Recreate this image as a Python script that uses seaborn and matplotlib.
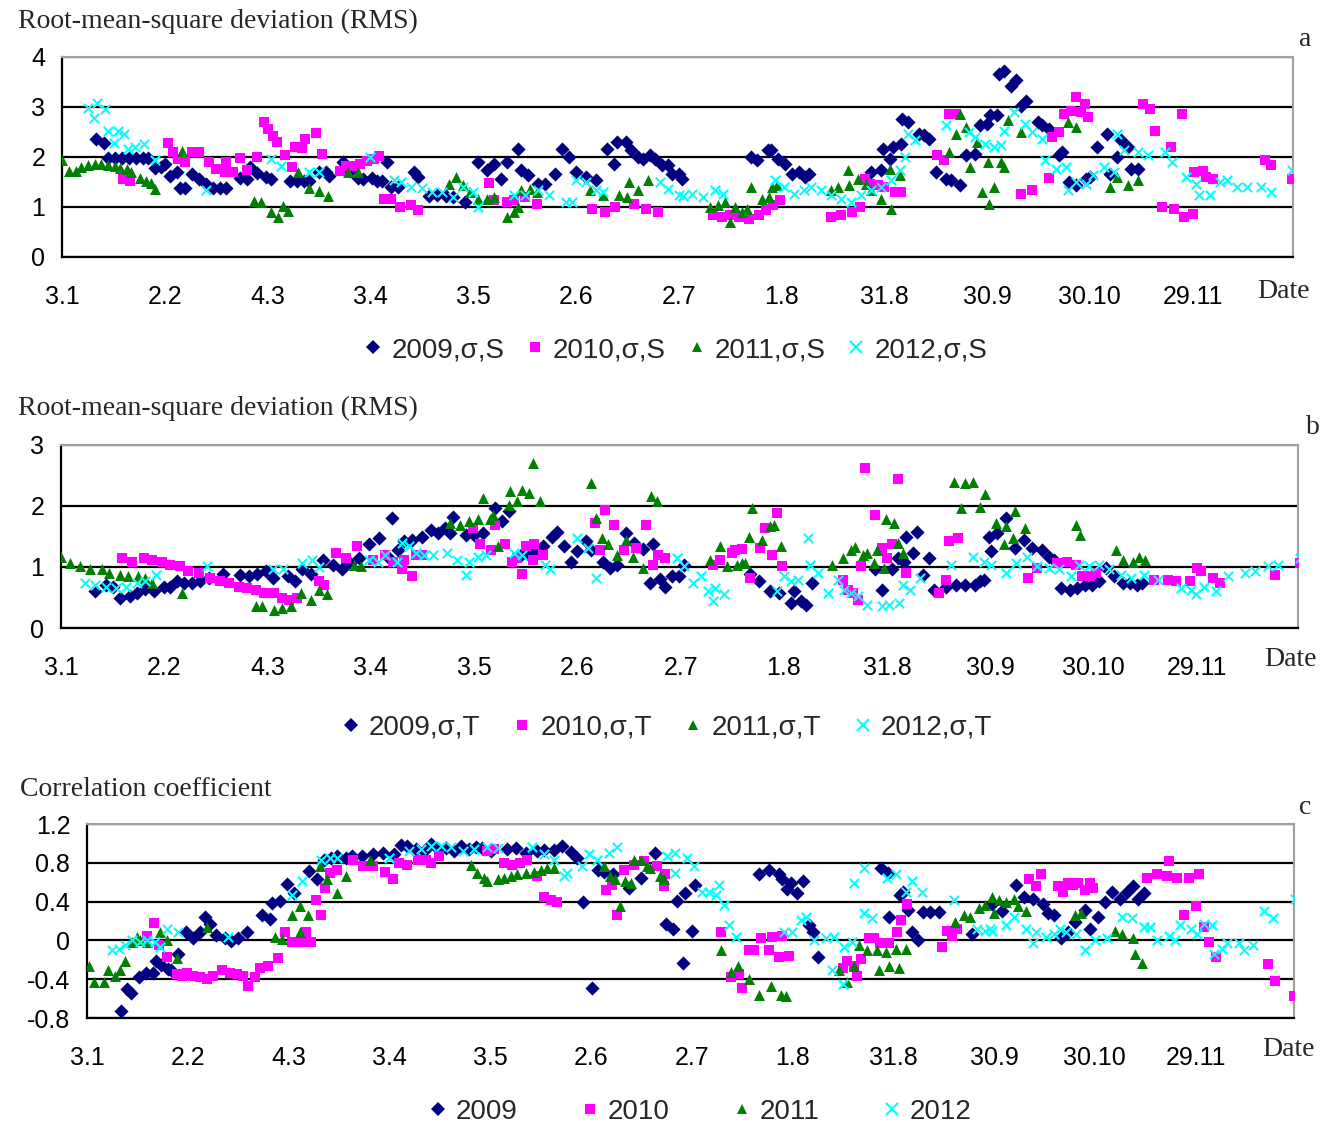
import matplotlib
matplotlib.use("Agg")
import matplotlib.pyplot as plt
import seaborn as sns
import pandas as pd

sns.set_style("white")
plt.rcParams["font.family"] = ["Liberation Sans", "DejaVu Sans"]

TICK_DAYS = [3, 33, 63, 93, 123, 153, 183, 213, 243, 273, 303, 333]
TICK_LABELS = ["3.1", "2.2", "4.3", "3.4", "3.5", "2.6", "2.7", "1.8", "31.8", "30.9", "30.10", "29.11"]
YEARS = ["2009", "2010", "2011", "2012"]
COLORS = {"2009": "#000080", "2010": "#FF00FF", "2011": "#008000", "2012": "#00FFFF"}
MARKERS = {"2009": "D", "2010": "s", "2011": "^", "2012": "x"}
SIZES = {"2009": 52, "2010": 52, "2011": 62, "2012": 45}

# ---------------- Panel a: RMS deviation, salinity (S) ----------------
a09 = [(13,2.35),(15.3,2.27),(16.5,1.97),(18.5,1.97),(20.5,1.97),(22.5,1.97),(24.5,1.97),(26.5,1.97),(28,1.97),(30,1.77),(32,1.8),(33,1.85),(34.5,1.62),(36.5,1.7),(37.5,1.38),(39,1.38),(41,1.65),(43,1.55),(45,1.45),(47,1.38),(49,1.38),(51,1.38),(55,1.57),(57,1.55),(58,1.8),(60,1.68),(62.5,1.6),(64,1.55),(69.5,1.52),(71.5,1.52),(73.5,1.52),(75,1.52),(78,1.69),(80,1.69),(81,1.62),(85,1.9),(87,1.72),(89.5,1.58),(91,1.55),(93.5,1.58),(95,1.52),(96.5,1.52),
       (98,1.9),(99,1.4),(101,1.4),(105.6,1.7),(107,1.6),(110,1.22),(112.5,1.23),(115,1.22),(117,1.2),(120.7,1.1),(124.5,1.9),(127,1.73),(129,1.86),(131,1.56),(133,1.9),(136,2.16),(137,1.73),(139,1.63),(142,1.46),(144,1.46),(147,1.66),(149,2.16),(151,1.99),(153,1.7),(156,1.6),(159,1.53),(162,2.16),(164,1.86),(165,2.29),(167.5,2.29),(169,2.13),(171,2.0),(172.5,1.96),(174.5,2.03),(176,1.96),(178,1.83),(180,1.83),(181,1.66),(183,1.66),(184,1.56),
       (204,1.99),(206,1.93),(209,2.13),(210,2.13),(212,1.96),(214,1.86),(216,1.66),(218,1.69),(220,1.59),(221,1.66),(239,1.69),(242,1.73),(242.5,2.16),(244.6,1.96),(245.5,2.19),(248,2.26),(248.3,2.76),(250,2.69),(253,2.46),(254.5,2.43),(256,2.36),(258,1.69),(261,1.56),(262.5,1.53),(265,1.43),(267,2.03),(269.5,2.06),(271,2.63),(273,2.66),
       (274,2.83),(276,2.83),(276.5,3.66),(278,3.72),(280,3.42),(281.5,3.53),(283,3.02),(284.5,3.12),(288,2.69),(289,2.63),(291,2.56),(294,2.03),(295,2.1),(297,1.5),(299,1.43),(302,1.56),(303,1.59),(305,2.19),(308,2.46),(309,1.66),(311,1.99),(312,2.33),(314,2.19),(315,1.76),(317,1.76)]
a10 = [(20.8,1.56),(22.8,1.52),(34,2.28),(35.5,2.1),(37,1.96),(38.8,1.9),(40.8,2.1),(43,2.1),(45.8,1.9),(48,1.75),(50.5,1.7),(50.8,1.9),(53,1.7),(55,1.98),(57,1.74),(60,1.99),(62,2.7),(63,2.55),(64.5,2.42),(65.8,2.29),(68,2.03),(70,1.8),(71,2.2),(73,2.17),(74,2.35),(77,2.48),(79,2.06),(84,1.72),(86,1.82),(88,1.82),(90,1.85),(92,1.92),(94,1.96),(95.5,2.02),
       (97,1.16),(99,1.16),(101.7,1.0),(105,1.03),(107,0.93),(127.5,1.47),(129,1.13),(133,1.09),(135,1.13),(138,1.19),(141.5,1.06),(157.6,0.96),(161.5,0.89),(164.3,0.99),(170,1.06),(173.5,0.96),(177,0.89),
       (193,0.83),(195.5,0.79),(198,0.83),(200.5,0.79),(203.5,0.76),(206.5,0.83),(208.5,0.93),(210.5,1.03),(212.5,1.13),(227.4,0.79),(230.5,0.83),(233.5,0.89),(236,0.99),(237.5,1.56),(238.7,1.46),(241.2,1.43),(243,1.39),(246,1.29),(248,1.29),(258.3,2.03),(260.3,1.93),(261.8,2.86),(263.8,2.86),
       (283,1.26),(286,1.33),(291,1.58),(292,2.39),(294,2.5),(295.5,2.86),(297.5,2.92),(299,3.2),(300.5,2.89),(301.5,3.05),(302.5,2.79),(318.6,3.05),(320.5,2.95),(322,2.52),(324,0.99),(326.7,2.19),(327.5,0.96),(330,2.85),(330.5,0.79),(333,0.86),(333.5,1.69),(336,1.72),(337,1.59),(339,1.56),(354,1.93),(356,1.83),(362,1.56)]
a11 = [(3,1.93),(5,1.72),(7,1.72),(8.6,1.8),(10.5,1.83),(12.5,1.85),(14.5,1.85),(16.5,1.83),(18.4,1.82),(20,1.78),(22,1.75),(23,1.7),(25.7,1.58),(27.5,1.52),(29,1.48),(30,1.35),(38,2.12),(59,1.12),(61,1.09),(64,0.89),(66,0.79),(67.5,1.02),(69,0.92),(72,1.69),(75,1.38),(78,1.32),(80.7,1.22),(86.5,1.69),(89.5,1.69),
       (116,1.46),(118,1.6),(120,1.43),(122,1.3),(124.5,1.16),(127,1.16),(129,1.19),(133,0.8),(135,0.9),(136,0.99),(137,1.33),(139.6,1.36),(141.5,1.29),(157,1.33),(161,1.23),(165.5,1.23),(168,1.19),(168.5,1.49),(171,1.33),(174,1.53),
       (192,0.99),(194.5,1.03),(196.5,1.09),(198,0.7),(199.5,0.99),(201.5,0.89),(203,0.96),(204,1.4),(207.3,1.16),(209.3,1.19),(210.3,1.4),(211.8,1.43),(227.4,1.33),(229.4,1.4),(232.3,1.73),(232.8,1.43),(235.3,1.56),(237.7,1.46),(239.2,1.33),(242,1.16),(244.6,1.76),(245,0.96),(247.5,1.63),(262,2.09),(264,2.46),(265,2.86),(267,2.59),(268,1.79),(270,2.29),(271.5,1.29),(273.2,1.89),
       (273.5,1.06),(275,1.4),(277,1.89),(278,1.79),(279,2.73),(283,2.49),(296.5,2.69),(299,2.59),(309,1.4),(311,1.59),(314,1.43),(317,1.53)]
a12 = [(10.6,2.98),(12.3,2.78),(13.3,3.08),(15.5,2.95),(16.4,2.51),(18.2,2.27),(19.4,2.51),(21.1,2.46),(22.3,2.16),(24.2,2.19),(27,2.26),(30,1.93),(45,1.33),(64,1.96),(67,1.82),(75,1.69),(78,1.69),(93,1.99),
       (100,1.53),(102,1.5),(105,1.4),(108,1.37),(111,1.3),(114,1.3),(117,1.2),(120,1.4),(123,1.3),(124.5,1.0),(135,1.23),(138,1.23),(142,1.33),(145,1.23),(150,1.09),(152,1.09),(153,1.53),(156,1.5),(159,1.33),(161,1.3),(177.5,1.5),(180,1.36),(183,1.23),
       (184.3,1.22),(186.8,1.26),(190,1.19),(193.6,1.33),(196,1.26),(211,1.53),(213.7,1.39),(216.6,1.26),(219.6,1.33),(221.5,1.39),(224.5,1.33),(227.4,1.23),(230.4,1.16),(233.3,1.09),(236.3,1.23),(239.2,1.33),(242,1.39),(245,1.53),(247.5,1.73),(249,1.99),(250,2.46),(252,2.33),(261,2.63),(267.6,2.49),(269.6,2.39),(272.5,2.26),
       (275,2.2),(277,2.23),(278,2.52),(281,2.89),(284,2.66),(286,2.49),(289,2.36),(290,1.93),(293,1.76),(296,1.79),(296.5,1.33),(299,1.5),(302,1.46),(304,1.63),(307,1.79),(310,1.69),(311,2.46),(313,2.13),(317,2.09),(320,2.03),(325,2.09),(327,1.89),(331,1.59),(334,1.46),(335,1.23),(338,1.23),(341,1.5),(343,1.53),(346,1.39),(349,1.39),(353,1.39),(356,1.29),(362,1.73)]

# ---------------- Panel b: RMS deviation, temperature (T) ----------------
b09 = [(13,0.6),(16,0.71),(18,0.68),(20,0.49),(23,0.52),(25,0.57),(27.5,0.64),(30,0.6),(33,0.67),(34.7,0.68),(36.7,0.77),(38.6,0.73),(41,0.73),(43.5,0.77),(46,0.82),(50,0.89),(55,0.87),(57.5,0.85),(60,0.89),(62.5,0.93),(64.5,0.82),(69,0.85),(71,0.77),(73,0.96),(75.5,0.89),(79,1.12),(82,1.04),(84.5,0.96),(87,1.07),(89.5,1.15),(92.5,1.37),
       (95.4,1.48),(98,1.17),(99,1.8),(101,1.28),(102.5,1.42),(105,1.45),(108,1.5),(110.5,1.61),(112.5,1.56),(114.5,1.64),(116,1.55),(117,1.82),(120.7,1.53),(123,1.53),(125.5,1.55),(129,1.97),(131,1.75),(133,1.91),(136.7,1.2),(138.7,1.22),(140.5,1.24),(143,1.35),(145.5,1.5),(147,1.58),(149,1.34),(151,1.09),(153,1.26),(155.6,1.42),(157,1.28),(160.5,1.09),(162.5,0.98),(164.5,1.04),(167,1.55),(169.5,1.4),(172,1.3),(174,0.74),(175,1.37),(177,0.8),(178.5,0.68),(180.5,0.85),(182.5,0.85),(184,1.04),
       (203,0.89),(205.6,0.77),(209,0.6),(211.5,0.57),(215,0.41),(216,0.6),(218,0.44),(219.5,0.37),(221,0.74),(239.5,0.96),(241.5,0.63),(244.5,0.96),(246,1.15),(248,1.09),(248.5,1.5),(250.5,1.23),(251.5,1.58),(253.5,0.87),(255,1.15),(256.5,0.63),(260,0.68),(263,0.71),(265.5,0.71),(268.5,0.71),(270,0.77),(271,0.79),(272.5,1.5),
       (273,1.26),(275,1.56),(277.5,1.8),(280,1.31),(282.7,1.45),(285,1.31),(288,1.28),(290,1.17),(291.4,1.12),(293.5,0.66),(296,0.63),(298,0.66),(300.5,0.71),(302.5,0.71),(304.5,0.77),(306.5,0.98),(309,0.85),(311.5,0.74),(313.5,0.73),(315.5,0.71),(317,0.73)]
b10 = [(20.7,1.15),(23.6,1.09),(27,1.15),(29.4,1.12),(32.3,1.09),(34.8,1.04),(37.7,1.01),(40,0.93),(43,0.9),(46.4,0.82),(49.3,0.77),(51.7,0.74),(54.7,0.68),(57,0.66),(59.5,0.63),(62,0.57),(64.8,0.57),(67.3,0.49),(69.2,0.46),(71.6,0.49),(78,0.77),(79.4,0.71),(82.8,1.23),(85.7,1.15),(89,1.34),(93.5,1.12),
       (97,1.2),(99.5,1.09),(102.5,1.12),(102,0.96),(105,0.85),(106,1.2),(108,1.2),(122.6,1.64),(124.6,1.37),(128,1.28),(129,1.69),(132,1.37),(134,1.09),(135.5,1.15),(137,0.89),(138,1.34),(140.5,1.37),(140,1.12),(143,1.2),(158,1.72),(161,1.94),(163.5,1.69),(159.5,1.28),(166.5,1.28),(170,1.31),(173,1.69),(175,1.04),(176.5,1.2),(178.5,1.15),
       (192.4,1.04),(194.4,1.12),(197.8,1.23),(198.8,1.28),(200.7,1.3),(203,0.82),(206,1.31),(207.5,1.64),(209.5,1.2),(211,1.89),(212.5,1.01),(230,0.79),(231.5,0.63),(233,0.57),(234.5,0.46),(235.5,1.01),(236.5,2.62),(239.5,1.86),(241.5,1.31),(243,1.15),(244.5,1.37),(246,2.44),(248.5,0.9),(258,0.57),(260,0.79),(261,1.42),(263.5,1.48),
       (284,0.82),(286.6,0.98),(292.4,1.07),(295.3,1.09),(297.8,1.04),(299.7,0.85),(302,0.85),(303.6,0.9),(320.6,0.79),(324.5,0.79),(327,0.77),(330.8,0.77),(333,0.98),(334,0.93),(337.5,0.82),(339.5,0.74),(355.5,0.87),(363,1.07)]
b11 = [(3,1.17),(5.6,1.07),(8.5,1.01),(11.4,0.97),(14.8,0.96),(16.8,0.9),(20.2,0.87),(22.6,0.85),(25.5,0.85),(27.5,0.82),(29.4,0.74),(38.2,0.58),(59.5,0.36),(61.5,0.36),(64.8,0.3),(67.3,0.33),(69.7,0.36),(72.6,0.57),(75.5,0.46),(78,0.63),(80.4,0.55),(88,1.04),(90,1.01),
       (116,1.72),(119,1.69),(121.5,1.75),(124,1.78),(125.5,2.13),(127.5,1.78),(128.5,1.86),(130,1.34),(133,2.02),(133.5,2.24),(135.5,2.08),(137,2.27),(139,2.21),(140,2.7),(142,2.08),(157,2.38),(158.5,1.8),(160,1.48),(162,1.37),(164.5,1.2),(167,1.45),(169,1.17),(172,0.98),(174.5,2.16),(176,2.08),
       (191.5,1.12),(194.4,1.34),(196.4,1.01),(199.3,1.04),(200.7,1.07),(201.7,1.07),(202.7,1.5),(203.7,1.97),(206.7,1.45),(209,1.67),(210,1.69),(212,1.34),(227,1.04),(230,1.15),(232.5,1.28),(233.5,1.33),(236,1.2),(237,1.23),(239,1.07),(240,1.28),(242,0.98),(242.5,1.78),(245,1.72),(246,1.39),(247.5,1.23),(262.5,2.4),(264.5,1.97),(265.5,2.38),(268,2.4),(270,1.99),(271.5,2.19),
       (274.5,1.72),(277.5,1.67),(280,1.91),(277,1.37),(279.5,1.48),(283,1.64),(297.8,1.69),(299,1.53),(309.5,1.28),(311.5,1.12),(314.5,1.09),(316,1.17),(318,1.12)]
b12 = [(10,0.74),(13,0.71),(16,0.68),(19,0.66),(22,0.68),(25,0.73),(27.5,0.77),(30.5,0.87),(45.5,1.01),(64.5,0.96),(67.5,0.96),(73,1.07),(76,1.12),(78,1.0),(92.5,1.12),
       (95,1.09),(97,1.2),(100.5,1.09),(102,1.39),(104,1.34),(106,1.23),(108.5,1.2),(111,1.2),(115,1.23),(118,1.12),(120.5,0.87),(121.5,1.09),(124,1.17),(126.5,1.2),(134.7,1.23),(137,1.2),(143.5,1.04),(145,0.96),(153,1.48),(156,1.31),(158.5,0.82),(182,1.15),(184,1.01),(186.5,0.74),
       (189,0.85),(191,0.6),(192.5,0.44),(193,0.66),(195.5,0.55),(211,0.6),(213,0.85),(215,0.77),(217,0.79),(220,1.48),(220.5,1.04),(223,0.9),(225.7,0.57),(228.7,0.79),(230.5,0.63),(232.5,0.57),(234.5,0.52),(237,0.38),(241.5,0.36),(243.5,0.38),(246.5,0.41),(247.5,0.71),(249.5,0.63),(252.5,0.82),(261.5,1.04),(268,1.17),(271,1.09),
       (273,1.04),(277.5,0.9),(280.5,1.07),(283.7,1.17),(286.6,1.01),(290,0.98),(293,0.96),(296.3,0.85),(298.7,1.04),(301.6,1.01),(304.5,1.04),(307.5,0.96),(311,0.87),(313.8,0.82),(317.7,0.87),(321.5,0.79),(328.3,0.66),(331.2,0.63),(332.7,0.55),(335,0.68),(338.5,0.6),(342,0.85),(346.8,0.9),(349.7,0.93),(353.6,1.01),(356.5,1.04),(363,1.15)]

# ---------------- Panel c: correlation coefficient ----------------
c09 = [(13,-0.73),(15,-0.5),(16,-0.54),(18.5,-0.38),(20.5,-0.34),(22.5,-0.34),(23.5,-0.21),(25,-0.25),(27,-0.29),(28,-0.3),(30,-0.14),(32.5,0.09),(34.5,0.02),(36.5,0.09),(38,0.24),(39.5,0.17),(41.5,0.06),(44,0.02),(46,-0.01),(48,0.02),(50.5,0.09),(55,0.26),(57.5,0.22),(58,0.39),(60.5,0.41),(62.5,0.58),(64.5,0.49),(69,0.72),(71.5,0.63),(73.5,0.83),(75.5,0.85),(77.5,0.87),(80,0.85),(82,0.87),(85,0.87),(88,0.89),(91,0.9),
       (94.5,0.89),(96.5,0.98),(98.4,0.97),(101,0.94),(103.4,0.92),(105.4,0.99),(107.4,0.94),(110,0.95),(112.3,0.92),(114.3,0.97),(116.8,0.94),(118.7,0.96),(120.7,0.95),(123.2,0.92),(128,0.94),(130.6,0.95),(133.6,0.9),(137,0.92),(139,0.93),(142,0.93),(144.5,0.97),(147,0.91),(149,0.85),(150.7,0.4),(153.4,-0.49),(155,0.73),(157,0.71),(159.5,0.68),(164.3,0.54),(168,0.64),(172,0.9),(175.5,0.17),(177.5,0.12),(178.5,0.41),(180.5,-0.23),(181,0.49),(183,0.1),(184,0.57),
       (203,0.68),(206,0.73),(209,0.68),(210,0.63),(211.5,0.53),(212.5,0.59),(214.5,0.49),(216,0.61),(218,0.16),(219,0.09),(220.5,-0.17),(239.5,0.75),(241.5,0.7),(241.7,0.24),(245,0.47),(246,0.5),(247.5,0.31),(248.5,0.09),(250.5,0.0),(252,0.29),(254,0.29),(256.5,0.29),(266.5,0.07),
       (272.5,0.38),(275.5,0.3),(279.5,0.57),(282,0.45),(284.5,0.43),(287.5,0.38),(289,0.28),(291,0.26),(293,0.02),(295,0.09),(297,0.19),(300,0.31),(301.5,0.12),(304,0.24),(306,0.4),(308,0.5),(310.5,0.43),(312.5,0.5),(314.5,0.56),(316,0.43),(317.5,0.49)]
c10 = [(20.8,0.05),(22.8,0.18),(24.3,-0.05),(26.8,-0.17),(29.7,-0.35),(31.2,-0.37),(32.7,-0.34),(34.7,-0.37),(36.7,-0.38),(38.6,-0.4),(40.6,-0.37),(43.1,-0.3),(45.6,-0.34),(47.6,-0.35),(49.5,-0.37),(51,-0.47),(53,-0.38),(54.5,-0.28),(57,-0.26),(60,-0.18),(62,0.09),(63.9,-0.02),(66.4,-0.02),(68.8,-0.02),(69.8,-0.02),(68.3,0.09),(71.3,0.42),(72.8,0.26),(73.8,0.54),(75.3,0.7),(77.3,0.73),(82.2,0.83),(85.2,0.77),(88.1,0.77),(91.6,0.71),
       (94,0.63),(96,0.8),(98.4,0.78),(101.4,0.83),(103.9,0.83),(105.4,0.8),(107.8,0.87),(122.2,0.92),(124.2,0.94),(127.2,0.8),(129.6,0.78),(132,0.8),(134,0.83),(137,0.66),(139,0.45),(141,0.42),(143,0.4),(157.4,0.52),(159.3,0.57),(160.8,0.26),(162.8,0.73),(165.8,0.78),(168.7,0.82),(172.7,0.77),(175.2,0.68),(174.7,0.56),
       (191.7,0.09),(194.7,-0.38),(197.2,-0.35),(198.1,-0.49),(200.1,-0.1),(201.6,-0.1),(203.6,0.02),(206,-0.1),(207,0.03),(209,-0.17),(212,-0.16),(210,0.05),(227.9,-0.28),(229.3,-0.21),(231.3,-0.26),(232.3,-0.37),(233.3,-0.19),(235.8,0.02),(237.3,0.02),(239.2,-0.03),(241.7,-0.03),(244.2,0.09),(245.2,0.21),(247.2,0.38),(257.6,-0.07),(259,0.1),(260.5,0.05),(262,0.12),
       (283.5,0.63),(285.5,0.56),(287,0.68),(292,0.56),(293.5,0.5),(295,0.59),(296.5,0.57),(298,0.59),(300,0.52),(301.5,0.59),(302.5,0.54),(318.5,0.64),(321.5,0.68),(324.5,0.66),(325,0.82),(327.5,0.64),(331,0.64),(334,0.68),(329.5,0.26),(333,0.35),(335.5,0.14),(337,-0.02),(339,-0.17),(354.5,-0.24),(356.5,-0.42),(362.3,-0.57)]
c11 = [(3.5,-0.26),(5,-0.43),(8,-0.43),(9.4,-0.31),(11.4,-0.37),(12.9,-0.31),(14.4,-0.21),(16.4,-0.02),(17.9,0.03),(18.8,0.0),(20.8,-0.02),(24.8,0.09),(26.8,0.0),(29.7,-0.18),(38.6,0.14),(58.9,0.03),(60.9,0.01),(63.9,0.26),(66.4,0.35),(68.8,0.26),(66.4,0.09),(72.3,0.77),(74.3,0.63),(77.3,0.49),(80.2,0.66),(87.2,0.83),
       (117.3,0.78),(119.2,0.7),(121.2,0.64),(122.2,0.61),(125.2,0.63),(127.2,0.64),(129.1,0.66),(131.1,0.68),(133.6,0.7),(136.1,0.71),(138,0.73),(140,0.75),(142,0.75),(156.9,0.77),(158.8,0.66),(160.3,0.63),(161.8,0.35),(163.3,0.61),(164.8,0.59),(165.8,0.83),(167.8,0.83),(169.7,0.77),(170.7,0.75),(173.7,0.66),(174.7,0.63),
       (191.7,-0.1),(194.7,-0.33),(196.7,-0.26),(200.1,-0.4),(203.1,-0.56),(206.6,-0.47),(209.5,-0.56),(211,-0.57),(226.9,-0.31),(229.3,-0.43),(231.3,-0.26),(232.8,-0.05),(235.3,-0.1),(238.2,-0.1),(240.7,-0.12),(243.7,-0.09),(246.7,-0.09),(238.7,-0.31),(241.7,-0.26),(244.7,-0.28),(261.5,0.19),(264,0.26),(266,0.24),(268.4,0.33),(270.4,0.37),(272.9,0.28),
       (272.5,0.45),(274.5,0.42),(276.5,0.4),(279,0.43),(280,0.35),(282.5,0.3),(297,0.26),(299,0.28),(309,0.1),(311,0.07),(314.5,0.02),(315,-0.14),(317,-0.23)]
c12 = [(10.4,-0.1),(12.4,-0.09),(14.4,-0.05),(16.4,0.0),(18.8,-0.02),(20.8,0.0),(23.3,-0.02),(24.8,-0.07),(26.8,0.12),(30.2,0.09),(45.1,0.03),(63.9,0.47),(66.9,0.61),(72.8,0.83),(75.3,0.85),(77.3,0.85),
       (93,0.85),(98.9,0.92),(102.4,0.94),(105.4,0.97),(108.3,0.97),(111.3,0.96),(114.8,0.92),(118.2,0.94),(122.2,0.96),(125.2,0.95),(135.6,0.96),(139,0.89),(142,0.83),(145,0.66),(146,0.7),(150.4,0.77),(152.4,0.89),(154.9,0.83),(158.3,0.9),(160.8,0.96),(175.7,0.87),(178.1,0.9),(178.1,0.7),(181.6,0.85),(183.6,0.77),(186,0.5),
       (188.2,0.5),(190.2,0.47),(191.2,0.57),(192.7,0.37),(194.2,0.16),(196.2,0.03),(210.5,0.09),(213,0.09),(215.5,0.21),(217,0.24),(219.4,0.0),(222.9,0.02),(225.4,0.03),(228.3,-0.07),(224.9,-0.3),(227.9,-0.45),(230.8,-0.02),(231.3,0.59),(234.3,0.75),(234.3,0.28),(236.8,0.23),(241.2,0.64),(243.7,0.68),(246.7,0.5),(248.6,0.61),(251.6,0.5),(261,0.42),(268,0.12),(270.4,0.1),(271.9,0.12),
       (272.5,0.1),(276.5,0.16),(279,0.24),(282.5,0.12),(285.5,0.09),(284.5,-0.03),(288.5,0.03),(291,0.07),(292.5,0.12),(294.5,0.09),(297.5,0.07),(300,-0.1),(303,0.0),(306.5,0.02),(311,0.24),(314,0.23),(317.5,0.14),(319.5,0.14),(321.5,0.0),(325,0.05),(327,0.0),(328.5,0.16),(331.5,0.12),(333.5,0.07),(335.5,0.17),(338,0.16),(338.5,-0.14),(341,-0.09),(342.5,-0.03),(346,-0.03),(347.5,-0.1),(350,-0.05),(353.5,0.3),(356,0.23),(362.5,0.43)]

LEG_A = ["2009,σ,S", "2010,σ,S", "2011,σ,S", "2012,σ,S"]
LEG_B = ["2009,σ,T", "2010,σ,T", "2011,σ,T", "2012,σ,T"]
LEG_C = ["2009", "2010", "2011", "2012"]


def frame(series):
    rows = []
    for year, pts in zip(YEARS, series):
        for d, v in pts:
            rows.append({"day": d, "value": v, "year": year})
    return pd.DataFrame(rows)


W, H = 1324, 1129
fig = plt.figure(figsize=(W / 100, H / 100), dpi=100)
SERIF = ["Liberation Serif", "DejaVu Serif"]


def panel(rect, series, ylim, yticks, yticklabels, leg_labels, leg_xy, colspace):
    ax = fig.add_axes(rect)
    df = frame(series)
    for year in YEARS:
        sub = df[df["year"] == year]
        kw = dict(marker=MARKERS[year], color=COLORS[year], s=SIZES[year])
        if MARKERS[year] == "x":
            kw["linewidth"] = 1.5
        else:
            kw["linewidth"] = 0
            kw["edgecolor"] = COLORS[year]
        sns.scatterplot(data=sub, x="day", y="value", ax=ax, zorder=3, legend=False, **kw)
    ax.set_xlim(3, 362.3)
    ax.set_ylim(*ylim)
    ax.set_xticks(TICK_DAYS)
    ax.set_xticklabels(TICK_LABELS, fontsize=18)
    ax.set_yticks(yticks)
    ax.set_yticklabels(yticklabels, fontsize=18)
    ax.set_xlabel("")
    ax.set_ylabel("")
    for yv in yticks:
        ax.axhline(yv, color="black", lw=1.6, zorder=1)
    for side in ("top", "right"):
        ax.spines[side].set_color("#a0a0a0")
        ax.spines[side].set_linewidth(1.5)
    for side in ("left", "bottom"):
        ax.spines[side].set_color("black")
        ax.spines[side].set_linewidth(1.6)
    ax.tick_params(axis="x", direction="out", length=8, width=1.5, pad=12, colors="black")
    ax.tick_params(axis="y", direction="out", length=6, width=1.5, pad=6, colors="black")
    handles = []
    for year in YEARS:
        if MARKERS[year] == "x":
            h = plt.Line2D([], [], ls="", marker="x", color=COLORS[year], markersize=8, mew=1.5)
        else:
            h = plt.Line2D([], [], ls="", marker=MARKERS[year], color=COLORS[year], markersize=7, mew=0)
        handles.append(h)
    fig.legend(handles, leg_labels, loc="center", bbox_to_anchor=leg_xy, ncol=4, frameon=False,
               fontsize=20, handletextpad=0.15, columnspacing=colspace, handlelength=1.0)
    return ax


panel([62 / W, 1 - 257 / H, 1231 / W, 200 / H], [a09, a10, a11, a12], (0, 4),
      [0, 1, 2, 3, 4], ["0", "1", "2", "3", "4"], LEG_A, (0.5085, 1 - 350 / H), 0.6)
panel([61 / W, 1 - 628 / H, 1237 / W, 183 / H], [b09, b10, b11, b12], (0, 3),
      [0, 1, 2, 3], ["0", "1", "2", "3"], LEG_B, (0.502, 1 - 728 / H), 1.0)
panel([87 / W, 1 - 1018 / H, 1207 / W, 194 / H], [c09, c10, c11, c12], (-0.8, 1.2),
      [-0.8, -0.4, 0, 0.4, 0.8, 1.2], ["-0.8", "-0.4", "0", "0.4", "0.8", "1.2"], LEG_C, (0.527, 1 - 1112 / H), 2.1)

fig.text(18 / W, 1 - 21 / H, "Root-mean-square deviation (RMS)", family=SERIF, fontsize=20, va="center", ha="left")
fig.text(18 / W, 1 - 408 / H, "Root-mean-square deviation (RMS)", family=SERIF, fontsize=20, va="center", ha="left")
fig.text(20 / W, 1 - 790 / H, "Correlation coefficient", family=SERIF, fontsize=20, va="center", ha="left")
fig.text(1305 / W, 1 - 40 / H, "a", family=SERIF, fontsize=20, va="center", ha="center")
fig.text(1313 / W, 1 - 428 / H, "b", family=SERIF, fontsize=20, va="center", ha="center")
fig.text(1305 / W, 1 - 808 / H, "c", family=SERIF, fontsize=20, va="center", ha="center")
fig.text(1283 / W, 1 - 291 / H, "Date", family=SERIF, fontsize=20, va="center", ha="center")
fig.text(1290 / W, 1 - 660 / H, "Date", family=SERIF, fontsize=20, va="center", ha="center")
fig.text(1288 / W, 1 - 1050 / H, "Date", family=SERIF, fontsize=20, va="center", ha="center")

fig.savefig("out.png", dpi=100, facecolor="white")
